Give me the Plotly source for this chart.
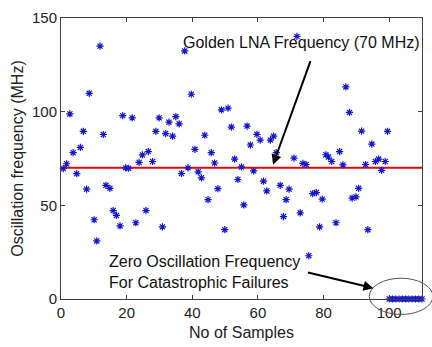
import plotly.graph_objects as go

# Sample index and measured oscillation frequency (MHz)
samples = [0.7, 1.7, 2.7, 3.7, 4.8, 5.9, 6.8, 7.8, 8.6,
           10.1, 10.9, 11.9, 12.9, 13.7, 14.9, 15.9, 16.9, 18.0, 18.8,
           19.7, 20.6,
           21.7, 22.8, 23.8, 24.8, 25.9, 26.6, 27.9, 28.9, 29.9,
           30.9, 31.9, 32.9, 34.0, 35.0, 36.0, 36.7, 37.7, 38.7, 39.7,
           40.8, 41.8, 42.8, 43.8, 44.8, 45.8, 46.8, 47.8, 48.9, 49.9,
           50.9, 51.9, 52.9, 53.9, 55.0, 55.7, 56.7, 57.7, 58.7, 59.7,
           60.7, 61.7, 62.7, 63.8, 64.8, 65.6, 66.8, 67.8, 68.6, 69.5,
           71.0, 71.9, 72.9, 73.7, 74.7, 75.5, 76.7, 77.8, 78.8, 79.6,
           80.7, 81.5, 82.5, 83.8, 84.9, 85.9, 86.8, 87.9, 88.7, 89.9,
           90.7, 91.6, 92.8, 93.5, 94.7, 95.8, 96.8, 97.7, 98.8, 99.5]
freq_mhz = [69.6, 72.2, 98.8, 78.1, 66.9, 80.9, 89.5, 58.6, 109.8,
            42.3, 31.0, 135.0, 87.8, 60.7, 59.1, 47.2, 44.6, 39.0, 97.9,
            70.0, 69.8,
            96.7, 40.7, 72.9, 76.9, 47.2, 78.7, 73.4, 89.5, 96.7,
            38.5, 88.3, 94.4, 86.9, 97.4, 93.5, 67.0, 132.4, 70.0, 109.3,
            79.9, 67.9, 64.7, 87.4, 53.0, 78.1, 72.6, 58.9, 101.0, 37.0,
            101.9, 91.8, 74.7, 63.8, 70.5, 50.2, 92.3, 82.2, 68.4, 87.9,
            84.8, 62.9, 57.7, 84.8, 86.9, 78.1, 60.7, 44.0, 53.0, 58.6,
            75.2, 140.2, 46.0, 72.4, 71.8, 23.1, 56.3, 56.8, 38.5, 53.3,
            77.0, 75.8, 73.4, 40.7, 78.7, 71.6, 113.2, 99.6, 53.9, 54.5,
            59.1, 89.6, 71.8, 37.0, 82.7, 73.4, 74.7, 68.7, 73.4, 89.5]

# Catastrophic failures (zero oscillation frequency)
failed_samples = [100, 101, 102, 103, 104, 105, 106, 107, 108, 109, 110]
failed_freq = [0, 0, 0, 0, 0, 0, 0, 0, 0, 0, 0]

golden_freq = 70
x_range = [0, 110]
y_range = [0, 150]
x_ticks = [0, 20, 40, 60, 80, 100]
y_ticks = [0, 50, 100, 150]

FONT = "Liberation Sans, Arial, sans-serif"
star = dict(symbol="asterisk-open", size=6, color="#1515d0",
            line=dict(color="#1515d0", width=1.2))

fig = go.Figure()
fig.add_trace(go.Scatter(x=x_range, y=[golden_freq, golden_freq], mode="lines",
                         line=dict(color="#d01010", width=2), hoverinfo="skip"))
fig.add_trace(go.Scatter(x=samples, y=freq_mhz, mode="markers", marker=star,
                         cliponaxis=False))
fig.add_trace(go.Scatter(x=failed_samples, y=failed_freq, mode="markers",
                         marker=star, cliponaxis=False))

axis_common = dict(showline=True, mirror="ticks", linecolor="#404040", linewidth=1,
                   ticks="inside", ticklen=4, tickcolor="#404040", showgrid=False,
                   zeroline=False, tickfont=dict(family=FONT, size=15, color="#222"))
fig.update_xaxes(range=x_range, tickvals=x_ticks, **axis_common,
                 title=dict(text="No of Samples", font=dict(family=FONT, size=16, color="#222"),
                            standoff=6))
fig.update_yaxes(range=y_range, tickvals=y_ticks, **axis_common,
                 title=dict(text="Oscillation frequency (MHz)",
                            font=dict(family=FONT, size=16, color="#222"), standoff=4))

# Arrows
fig.add_annotation(x=64.6, y=71.7, xref="x", yref="y", text="", showarrow=True,
                   ax=38, ay=-105, arrowhead=2, arrowsize=1, arrowwidth=2, arrowcolor="#000")
fig.add_annotation(x=95.2, y=5.8, xref="x", yref="y", text="", showarrow=True,
                   ax=-67, ay=-16, arrowhead=2, arrowsize=1, arrowwidth=2, arrowcolor="#000")
# Texts
fig.add_annotation(x=0.666, y=0.912, xref="paper", yref="paper", xanchor="center",
                   yanchor="middle", text="Golden LNA Frequency (70 MHz)", showarrow=False,
                   font=dict(family=FONT, size=16, color="#111"))
fig.add_annotation(x=0.128, y=0.095, xref="paper", yref="paper", xanchor="left",
                   yanchor="middle", align="left",
                   text="Zero Oscillation Frequency<br>For Catastrophic Failures",
                   showarrow=False, font=dict(family=FONT, size=16, color="#111"))
# Ellipse around failures
fig.add_shape(type="circle", xref="paper", yref="paper", x0=0.854, x1=1.03,
              y0=-0.055, y1=0.074, line=dict(color="#555", width=1))

fig.update_layout(width=432, height=347, margin=dict(l=61, r=9, t=16, b=45),
                  plot_bgcolor="white", paper_bgcolor="white", showlegend=False)

fig.write_html("out.html")
